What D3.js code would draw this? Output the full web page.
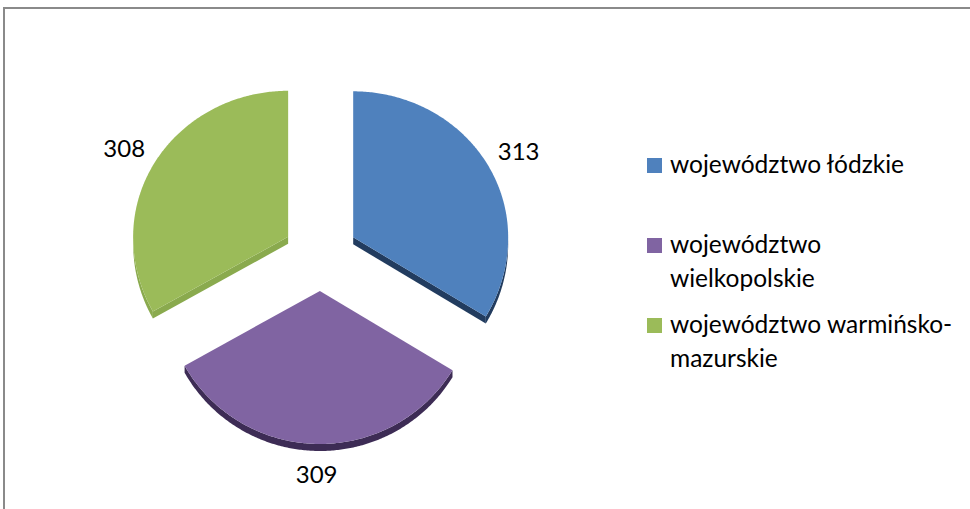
<!DOCTYPE html>
<html>
<head>
<meta charset="utf-8">
<script src="https://cdn.jsdelivr.net/npm/d3@7"></script>
<style>
html,body{margin:0;padding:0;background:#fff;}
svg{display:block;}
text{font-family:Lato,"Open Sans",sans-serif;fill:#000;}
</style>
</head>
<body>
<svg id="chart" width="970" height="509"></svg>
<script>
// ---- data ----
const categories = ["województwo łódzkie", "województwo wielkopolskie", "województwo warmińsko-mazurskie"];
const values = [313, 309, 308];
const legendLines = [["województwo łódzkie"], ["województwo", "wielkopolskie"], ["województwo warmińsko-", "mazurskie"]];
const topColors = ["#4F81BD", "#8064A2", "#9BBB59"];
const sideColors = ["#223C5F", "#3D2C55", "#8AAA4E"];

// ---- layout ----
const W = 970, H = 509;
const svg = d3.select("#chart");
const cx = 320.5, cy = 255;
const rx = 155, ryTop = 146, ryBot = 153, depth = 7, explode = 37.5;
const labelR = 190;
const fontSize = 24;
const legendFont = 24.5;

// border
svg.append("rect").attr("x", 4).attr("y", 8).attr("width", 1000).attr("height", 600)
  .attr("fill", "none").attr("stroke", "#8a8a8a").attr("stroke-width", 2);

const pie = d3.pie().sort(null).value(d => d);
const arcs = pie(values);

function pt(c, a, dz) {
  const ca = Math.cos(a);
  const ry = ca > 0 ? ryTop : ryBot;
  return [c[0] + rx * Math.sin(a), c[1] - ry * ca + (dz || 0)];
}
function samples(c, a0, a1, dz) {
  const n = Math.max(2, Math.ceil(Math.abs(a1 - a0) / 0.01));
  return d3.range(n + 1).map(i => pt(c, a0 + (a1 - a0) * i / n, dz));
}
const line = d3.line();
const g = svg.append("g");

arcs.forEach((d, i) => {
  const m = (d.startAngle + d.endAngle) / 2;
  const c = [cx + explode * Math.sin(m), cy - explode * 0.96 * Math.cos(m)];
  const a0 = d.startAngle, a1 = d.endAngle;
  const sg = g.append("g");
  // outer side (lower half visible)
  const s0 = Math.max(a0, Math.PI / 2), s1 = Math.min(a1, 3 * Math.PI / 2);
  if (s1 > s0) {
    const outer = samples(c, s0, s1, 0).concat(samples(c, s1, s0, depth));
    sg.append("path").attr("d", line(outer) + "Z").attr("fill", sideColors[i]);
  }
  // radial sides
  if (Math.sin(a0) < -0.01) {
    const p = pt(c, a0);
    sg.append("path").attr("d", line([c, p, [p[0], p[1] + depth], [c[0], c[1] + depth]]) + "Z").attr("fill", sideColors[i]);
  }
  if (Math.sin(a1) > 0.01) {
    const p = pt(c, a1);
    sg.append("path").attr("d", line([c, p, [p[0], p[1] + depth], [c[0], c[1] + depth]]) + "Z").attr("fill", sideColors[i]);
  }
  // top face
  const top = [c].concat(samples(c, a0, a1, 0));
  sg.append("path").attr("d", line(top) + "Z").attr("fill", topColors[i]);

  // label
  const fy = Math.cos(m) > 0 ? 0.93 : 0.96;
  g.append("text")
    .attr("x", c[0] + labelR * Math.sin(m))
    .attr("y", c[1] - labelR * fy * Math.cos(m))
    .attr("text-anchor", "middle").attr("dominant-baseline", "central")
    .attr("font-size", fontSize)
    .text(d.data);
});

// legend
const legendX = 647, textX = 670;
const legendBase = [173, 253, 333];
const lineH = 34;
const lg = svg.append("g");
categories.forEach((cat, i) => {
  lg.append("rect").attr("x", legendX).attr("y", legendBase[i] - 15).attr("width", 15).attr("height", 15)
    .attr("fill", topColors[i]);
  const t = lg.append("text").attr("x", textX).attr("y", legendBase[i]).attr("font-size", legendFont);
  legendLines[i].forEach((ln, j) => {
    t.append("tspan").attr("x", textX).attr("y", legendBase[i] + j * lineH).text(ln);
  });
});
</script>
</body>
</html>
